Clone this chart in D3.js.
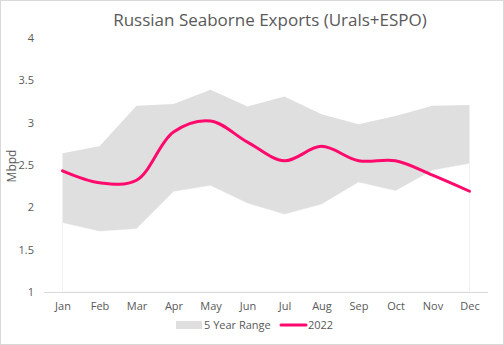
<!DOCTYPE html>
<html><head><meta charset="utf-8">
<script src="https://cdn.jsdelivr.net/npm/d3@7"></script>
<style>body{margin:0;background:#fff;} text{font-family:"Open Sans","Liberation Sans",sans-serif;}</style>
</head><body>
<svg id="c" width="504" height="345"></svg>
<script>
const months = ["Jan","Feb","Mar","Apr","May","Jun","Jul","Aug","Sep","Oct","Nov","Dec"];
const rangeLow  = [1.82,1.72,1.75,2.19,2.26,2.05,1.92,2.04,2.30,2.20,2.44,2.52];
const rangeHigh = [2.64,2.72,3.20,3.22,3.39,3.19,3.31,3.10,2.98,3.08,3.20,3.21];
const y2022     = [2.43,2.29,2.32,2.89,3.02,2.77,2.55,2.72,2.55,2.55,2.38,2.19];
const yTicks = [1,1.5,2,2.5,3,3.5,4];

const svg = d3.select("#c");
const txt = "#595959";
svg.append("rect").attr("x",0.5).attr("y",0.5).attr("width",503).attr("height",344)
  .attr("fill","#fff").attr("stroke","#d9d9d9");

const x = d3.scalePoint().domain(months).range([44,488]).padding(0.5);
const y = d3.scaleLinear().domain([1,4]).range([292,38]);

svg.append("text").attr("x",270).attr("y",26).attr("text-anchor","middle")
  .attr("font-size",17).attr("fill",txt).text("Russian Seaborne Exports (Urals+ESPO)");

// y labels
const ya = svg.append("g").attr("transform","translate(34,0)")
  .call(d3.axisLeft(y).tickValues(yTicks).tickSize(0).tickPadding(0).tickFormat(d3.format("")));
ya.select(".domain").remove();
ya.selectAll("text").attr("font-size",11).attr("fill",txt).style("font-family","'Open Sans',sans-serif");

svg.append("text").attr("transform","translate(16,166) rotate(-90)").attr("text-anchor","middle")
  .attr("font-size",12).attr("fill",txt).text("Mbpd");

const data = months.map((m,i)=>({m,lo:rangeLow[i],hi:rangeHigh[i],v:y2022[i]}));

// faint edges of invisible lower area
svg.append("path").datum(data)
  .attr("d",d3.area().x(d=>x(d.m)).y0(y(1)).y1(d=>y(d.lo)))
  .attr("fill","none").attr("stroke","#f2f2f2").attr("stroke-width",1);

svg.append("path").datum(data)
  .attr("d",d3.area().x(d=>x(d.m)).y0(d=>y(d.lo)).y1(d=>y(d.hi)))
  .attr("fill","#dfdfdf");

// x axis
const xa = svg.append("g").attr("transform","translate(0,292)")
  .call(d3.axisBottom(x).tickSize(0).tickPadding(10));
xa.select(".domain").attr("stroke","#d9d9d9").attr("d","M44,0.5H488");
xa.selectAll("text").attr("font-size",11).attr("fill",txt).style("font-family","'Open Sans',sans-serif");

svg.append("path").datum(data)
  .attr("d",d3.line().x(d=>x(d.m)).y(d=>y(d.v)).curve(d3.curveCatmullRom.alpha(0.5)))
  .attr("fill","none").attr("stroke","#ff0a6c").attr("stroke-width",3).attr("stroke-linecap","round");

// legend
const lg = svg.append("g");
lg.append("rect").attr("x",176).attr("y",321).attr("width",26).attr("height",8).attr("fill","#dfdfdf");
lg.append("text").attr("x",204).attr("y",329).attr("font-size",11).attr("fill",txt).text("5 Year Range");
lg.append("line").attr("x1",281).attr("x2",306).attr("y1",325).attr("y2",325)
  .attr("stroke","#ff0a6c").attr("stroke-width",3).attr("stroke-linecap","round");
lg.append("text").attr("x",308).attr("y",329).attr("font-size",11).attr("fill",txt).text("2022");
</script>
</body></html>
